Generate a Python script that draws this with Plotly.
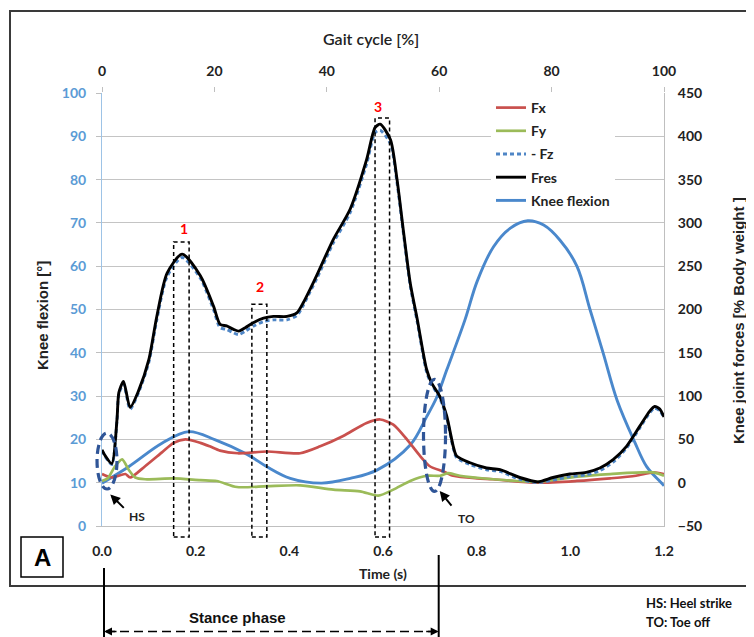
import plotly.graph_objects as go

# ---------------- data ----------------
fres_t = [0.000, 0.007, 0.021, 0.032, 0.036, 0.046, 0.060, 0.078, 0.100, 0.117, 0.139, 0.171, 0.210, 0.238, 0.252,
          0.266, 0.281, 0.292, 0.306, 0.324, 0.345, 0.366, 0.395, 0.416, 0.430, 0.444, 0.459, 0.494, 0.530, 0.565,
          0.583, 0.594, 0.616, 0.630, 0.644, 0.658, 0.673, 0.693, 0.704, 0.721, 0.736, 0.750, 0.757, 0.786, 0.821,
          0.850, 0.892, 0.931, 0.963, 0.999, 1.034, 1.063, 1.092, 1.120, 1.148, 1.170, 1.180, 1.191, 1.200]
fres = [38, 31, 22, 73, 104, 117, 87, 106, 142, 192, 242, 264, 239, 204, 183, 181, 177, 175, 179, 185,
        190, 192, 192, 196, 208, 223, 240, 281, 316, 373, 410, 414, 396, 350, 289, 231, 189, 131, 115, 100,
        77, 42, 31, 23, 17, 15, 6, 1, 6, 10, 12, 17, 27, 42, 65, 83, 88, 85, 76]
neg_fz = [37, 30, 21, 72, 102, 114, 85, 104, 139, 188, 238, 260, 236, 200, 179, 177, 173, 171, 175, 181,
          186, 188, 188, 193, 205, 220, 236, 277, 312, 368, 404, 407, 391, 346, 286, 228, 186, 128, 113, 98,
          75, 40, 29, 21, 15, 13, 4, 0, 3, 7, 9, 14, 24, 40, 63, 81, 86, 83, 75]

fx_t = [0.000, 0.021, 0.050, 0.060, 0.092, 0.128, 0.153, 0.178, 0.210, 0.230, 0.252, 0.290, 0.352, 0.423, 0.466,
        0.515, 0.565, 0.594, 0.622, 0.651, 0.679, 0.700, 0.729, 0.750, 0.801, 0.835, 0.929, 1.014, 1.085, 1.140,
        1.177, 1.200]
fx = [10, 6, 10, 6, 19, 35, 46, 50, 46, 42, 37, 34, 36, 34, 42, 54, 69, 73, 67, 50, 31, 19, 13, 8, 5, 4, 0, 2, 5, 8,
      12, 10]

fy_t = [0.000, 0.012, 0.028, 0.043, 0.057, 0.071, 0.092, 0.153, 0.210, 0.245, 0.288, 0.352, 0.423, 0.494, 0.551,
        0.590, 0.622, 0.658, 0.693, 0.722, 0.739, 0.764, 0.835, 0.929, 1.014, 1.085, 1.177, 1.200]
fy = [2, 5, 19, 27, 15, 6, 4, 5, 3, 2, -5, -4, -3, -8, -10, -15, -8, 2, 8, 8, 11, 8, 4, 1, 7, 10, 12, 8]

knee_t = [0.000, 0.057, 0.128, 0.185, 0.242, 0.309, 0.352, 0.402, 0.469, 0.530, 0.587, 0.658, 0.693, 0.715, 0.736,
          0.775, 0.801, 0.836, 0.872, 0.909, 0.943, 0.978, 1.014, 1.042, 1.070, 1.100, 1.137, 1.163, 1.192, 1.200]
knee = [9.9, 13.7, 19.1, 21.8, 19.9, 16.6, 13.7, 11.0, 9.9, 11.0, 12.9, 18.7, 25.2, 29.8, 36.0, 47.6, 56.5, 64.5,
        68.8, 70.5, 69.5, 66.0, 60.0, 50.0, 40.0, 29.0, 19.5, 13.7, 10.2, 9.3]

gait_range = [0, 100]
time_ticks = [0.0, 0.2, 0.4, 0.6, 0.8, 1.0, 1.2]
peak_labels = ["1", "2", "3"]

# ---------------- figure ----------------
# the page body has an 8px margin, so the figure is 8px smaller than the window
OFF = 8
W, H = 754 - OFF, 637 - OFF
PL, PR, PT, PB = 102, 664, 93, 526          # plot area in window pixels
ML, MT = PL - OFF, PT - OFF
MR, MB = W + OFF - PR, H + OFF - PB
PW, PH = PR - PL, PB - PT
FONT = "Lato"
TFONT = "Liberation Sans"
SM = 0.7


def px_x(px):
    return (px - PL) / PW


def px_y(py):
    return (PB - py) / PH


def t2p(t):
    return t / 1.2


def f2p(f):
    return (f + 50) / 500.0


fig = go.Figure()
fig.add_trace(go.Scatter(x=fx_t, y=fx, name="Fx", mode="lines", yaxis="y2", legendgroup="a",
                         line=dict(color="#c9504d", width=2.7, shape="spline", smoothing=SM)))
fig.add_trace(go.Scatter(x=fy_t, y=fy, name="Fy", mode="lines", yaxis="y2", legendgroup="b",
                         line=dict(color="#9bbb59", width=2.7, shape="spline", smoothing=SM)))
fig.add_trace(go.Scatter(x=fres_t, y=neg_fz, name="- Fz", mode="lines", yaxis="y2", legendgroup="c",
                         line=dict(color="#4f86c6", width=2.9, dash="4px,3px", shape="spline", smoothing=SM)))
fig.add_trace(go.Scatter(x=fres_t, y=fres, name="Fres", mode="lines", yaxis="y2", legendgroup="d",
                         line=dict(color="#000000", width=2.9, shape="spline", smoothing=SM)))
fig.add_trace(go.Scatter(x=knee_t, y=knee, name="Knee flexion", mode="lines", yaxis="y", legendgroup="e",
                         line=dict(color="#4a88cc", width=2.9, shape="spline", smoothing=1.0)))
# invisible trace so the top (gait cycle) axis is drawn
fig.add_trace(go.Scatter(x=gait_range, y=[None, None], xaxis="x2", yaxis="y", showlegend=False,
                         hoverinfo="skip", mode="lines"))

tickfont = dict(family=FONT, size=14, color="#222222", weight="bold")
fig.update_layout(
    width=W, height=H,
    margin=dict(l=ML, r=MR, t=MT, b=MB, autoexpand=False),
    paper_bgcolor="white", plot_bgcolor="white",
    font=dict(family=FONT, size=14, color="#222222"),
    xaxis=dict(range=[0, 1.2], tickvals=time_ticks, tickformat=".1f", showgrid=False, zeroline=False,
               showline=True, linecolor="#bfbfbf", linewidth=1, ticks="", tickfont=tickfont, ticklabelstandoff=12),
    xaxis2=dict(range=gait_range, overlaying="x", side="top", dtick=20, showgrid=False, zeroline=False,
                showline=False, ticks="outside", ticklen=5, tickcolor="#bfbfbf", tickfont=tickfont,
                ticklabelstandoff=5),
    yaxis=dict(range=[0, 100], dtick=10, showgrid=True, gridcolor="#c4c4c4", gridwidth=1, zeroline=False,
               showline=True, linecolor="#9dc3e6", linewidth=1, ticks="outside", ticklen=5, tickcolor="#bfbfbf",
               tickfont=dict(family=FONT, size=14, color="#5b9bd5", weight="bold"), ticklabelstandoff=7),
    yaxis2=dict(range=[-50, 450], dtick=50, overlaying="y", side="right", showgrid=False, zeroline=False,
                showline=True, linecolor="#bfbfbf", linewidth=1, ticks="", tickfont=tickfont, ticklabelstandoff=10),
    legend=dict(x=px_x(491), y=px_y(92), xanchor="left", yanchor="top", bgcolor="white", borderwidth=0,
                font=dict(family=FONT, size=14, color="#222222", weight="bold"), tracegroupgap=2),
    showlegend=True,
)

shapes = []
# outer frame
shapes.append(dict(type="rect", xref="paper", yref="paper", x0=px_x(10), x1=px_x(770), y0=px_y(586), y1=px_y(11),
                   line=dict(color="#3a3a3a", width=2)))
# dashed peak boxes
for (a, b, top) in [(0.153, 0.186, 278), (0.320, 0.352, 206), (0.583, 0.614, 421)]:
    shapes.append(dict(type="rect", xref="paper", yref="paper", x0=t2p(a), x1=t2p(b), y0=px_y(537), y1=f2p(top),
                       line=dict(color="black", width=1.5, dash="4px,3px")))
# HS and TO ellipses
for (tc, rt, fc, rf) in [(0.0107, 0.0213, 25, 32.3), (0.710, 0.0235, 54.6, 64.7)]:
    shapes.append(dict(type="circle", xref="paper", yref="paper", x0=t2p(tc - rt), x1=t2p(tc + rt),
                       y0=f2p(fc - rf), y1=f2p(fc + rf), line=dict(color="#2f5597", width=3.2, dash="9px,5px")))
# "A" box
shapes.append(dict(type="rect", xref="paper", yref="paper", x0=px_x(21), x1=px_x(63), y0=px_y(577), y1=px_y(537),
                   line=dict(color="black", width=1.5), fillcolor="white"))
# stance phase bracket
shapes.append(dict(type="line", xref="paper", yref="paper", x0=px_x(104), x1=px_x(104), y0=px_y(640), y1=px_y(568),
                   line=dict(color="black", width=2)))
shapes.append(dict(type="line", xref="paper", yref="paper", x0=px_x(438.7), x1=px_x(438.7), y0=px_y(640),
                   y1=px_y(555), line=dict(color="black", width=2)))
shapes.append(dict(type="line", xref="paper", yref="paper", x0=px_x(106), x1=px_x(436), y0=px_y(631.5),
                   y1=px_y(631.5), line=dict(color="black", width=1.6, dash="9px,5px")))
fig.update_layout(shapes=shapes)


def text(t, x, y, size, color="#222222", weight="bold", angle=0, xanchor="center", family=FONT):
    return dict(text=t, xref="paper", yref="paper", x=x, y=y, showarrow=False, textangle=angle,
                xanchor=xanchor, yanchor="middle",
                font=dict(family=family, size=size, color=color, weight=weight))


ann = []
ann.append(text("Gait cycle [%]", px_x(371), px_y(39), 16, weight=600))
ann.append(text("Time (s)", px_x(383), px_y(573), 14))
ann.append(text("Knee flexion [°]", px_x(42), px_y(316), 15, angle=-90, family=TFONT))
ann.append(text("Knee joint forces [% Body weight ]", px_x(738), px_y(321), 15, angle=-90, family=TFONT))
for lab, (tl, fl) in zip(peak_labels, [(0.1756, 294), (0.338, 227), (0.589, 434)]):
    ann.append(text(lab, t2p(tl), f2p(fl), 14, color="#ff0000"))
# HS / TO arrows and labels
ann.append(dict(text="", x=t2p(0.0177), y=f2p(-13.5), xref="paper", yref="paper", showarrow=True, ax=15, ay=15,
                arrowhead=2, arrowsize=1, arrowwidth=2, arrowcolor="black"))
ann.append(text("HS", px_x(137), px_y(516), 12))
ann.append(dict(text="", x=t2p(0.7211), y=f2p(-9.6), xref="paper", yref="paper", showarrow=True, ax=13, ay=16,
                arrowhead=2, arrowsize=1, arrowwidth=2, arrowcolor="black"))
ann.append(text("TO", px_x(466), px_y(518), 12))
ann.append(text("A", px_x(42), px_y(557), 24, color="black", family=TFONT))
ann.append(text("Stance phase", px_x(237), px_y(617), 15, color="#111111", family=TFONT))
ann.append(dict(text="", x=px_x(104), y=px_y(631.5), xref="paper", yref="paper", showarrow=True, ax=14, ay=0,
                arrowhead=2, arrowsize=1, arrowwidth=1.6, arrowcolor="black"))
ann.append(dict(text="", x=px_x(438.7), y=px_y(631.5), xref="paper", yref="paper", showarrow=True, ax=-14, ay=0,
                arrowhead=2, arrowsize=1, arrowwidth=1.6, arrowcolor="black"))
ann.append(text("HS: Heel strike", px_x(644), px_y(603), 13, color="#111111", xanchor="left"))
ann.append(text("TO: Toe off", px_x(644), px_y(622), 13, color="#111111", xanchor="left"))
fig.update_layout(annotations=ann)

fig.write_html("out.html")
